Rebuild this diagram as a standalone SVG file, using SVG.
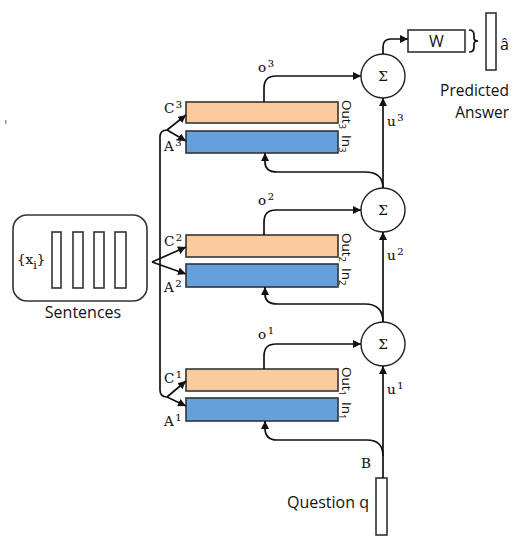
<svg xmlns="http://www.w3.org/2000/svg" width="528" height="556" viewBox="0 0 528 556">
<defs>
<marker id="ah" viewBox="0 0 10 10" refX="10" refY="5" markerWidth="8" markerHeight="8" markerUnits="userSpaceOnUse" orient="auto">
<path d="M0,0 L10,5 L0,10 z" fill="#111"/>
</marker>
<style>
.ln{fill:none;stroke:#111;stroke-width:1.7}
.arr{fill:none;stroke:#111;stroke-width:1.7;marker-end:url(#ah)}
.box{fill:#fff;stroke:#333;stroke-width:1.6}
.out{fill:#fbcb9f;stroke:#333;stroke-width:1.6}
.in{fill:#65a0dc;stroke:#333;stroke-width:1.6}
.sum{fill:#fff;stroke:#222;stroke-width:1.4}
.ser{font-family:"DejaVu Serif","Liberation Serif",serif;font-size:13.5px;fill:#111;stroke:#111;stroke-width:0.1}
.sup{font-size:10px}
.sans{font-family:"Open Sans","Noto Sans","Liberation Sans",sans-serif;fill:#111}
</style>
</defs>
<rect x="5" y="120" width="1.5" height="4" fill="#999"/>
<g id="sentences">
<rect class="box" x="13" y="215" width="134" height="86" rx="14"/>
<rect class="box" x="52" y="232" width="9" height="56"/>
<rect class="box" x="73" y="232" width="10" height="56"/>
<rect class="box" x="94" y="232" width="10" height="56"/>
<rect class="box" x="115" y="232" width="11" height="56"/>
<text class="ser" x="17" y="264" font-size="14.5">{x<tspan font-size="11" dy="5">i</tspan><tspan dy="-5">}</tspan></text>
<text class="sans" x="83" y="318" font-size="16" text-anchor="middle">Sentences</text>
</g>
<g id="layer3">
<rect class="out" x="186" y="102" width="152" height="21"/>
<rect class="in" x="186" y="131" width="152" height="22"/>
<text class="ser" x="164" y="113">C<tspan class="sup" dx="1.5" dy="-5">3</tspan></text>
<text class="ser" x="164" y="151">A<tspan class="sup" dx="1.5" dy="-5">3</tspan></text>
<text class="sans" font-size="13.5" transform="translate(341.5,100) rotate(90)">Out<tspan font-size="9.5" dy="3">3</tspan></text>
<text class="sans" font-size="13.5" transform="translate(341.5,135) rotate(90)">In<tspan font-size="9.5" dy="3">3</tspan></text>
</g>
<g id="layer2">
<rect class="out" x="186" y="235" width="152" height="22"/>
<rect class="in" x="186" y="264" width="152" height="23"/>
<text class="ser" x="164" y="246">C<tspan class="sup" dx="1.5" dy="-5">2</tspan></text>
<text class="ser" x="164" y="292">A<tspan class="sup" dx="1.5" dy="-5">2</tspan></text>
<text class="sans" font-size="13.5" transform="translate(341.5,233) rotate(90)">Out<tspan font-size="9.5" dy="3">2</tspan></text>
<text class="sans" font-size="13.5" transform="translate(341.5,268) rotate(90)">In<tspan font-size="9.5" dy="3">2</tspan></text>
</g>
<g id="layer1">
<rect class="out" x="186" y="369" width="152" height="22"/>
<rect class="in" x="186" y="398" width="152" height="23"/>
<text class="ser" x="164" y="383">C<tspan class="sup" dx="1.5" dy="-5">1</tspan></text>
<text class="ser" x="164" y="426">A<tspan class="sup" dx="1.5" dy="-5">1</tspan></text>
<text class="sans" font-size="13.5" transform="translate(341.5,367) rotate(90)">Out<tspan font-size="9.5" dy="3">1</tspan></text>
<text class="sans" font-size="13.5" transform="translate(341.5,402) rotate(90)">In<tspan font-size="9.5" dy="3">1</tspan></text>
</g>
<g id="sum3">
<circle class="sum" cx="383" cy="76" r="22"/>
<text class="ser" x="383" y="81" font-size="13" stroke-width="0" text-anchor="middle">Σ</text>
</g>
<g id="sum2">
<circle class="sum" cx="383" cy="210" r="22"/>
<text class="ser" x="383" y="215" font-size="13" stroke-width="0" text-anchor="middle">Σ</text>
</g>
<g id="sum1">
<circle class="sum" cx="383" cy="344" r="22"/>
<text class="ser" x="383" y="349" font-size="13" stroke-width="0" text-anchor="middle">Σ</text>
</g>
<g id="W">
<rect class="box" x="408" y="30" width="57" height="22"/>
<text class="sans" x="436.5" y="47" font-size="16" text-anchor="middle">W</text>
</g>
<g id="answer">
<path class="ln" stroke-width="1.3" d="M469,30 Q474,30 474,35 V38 Q474,41 478,41 Q474,41 474,44 V47 Q474,52 469,52"/>
<rect class="box" x="486" y="13" width="10" height="57"/>
<text class="sans" x="500" y="50" font-size="16">â</text>
<text class="sans" x="509" y="96" font-size="15.5" text-anchor="end">Predicted</text>
<text class="sans" x="509" y="118" font-size="15.5" text-anchor="end">Answer</text>
</g>
<g id="question">
<rect class="box" x="376" y="478" width="11" height="57"/>
<text class="sans" x="369" y="508" font-size="16" text-anchor="end">Question q</text>
</g>
<g id="connectors">
<path class="ln" d="M160,390 V137 Q160,130 167,130"/>
<path class="ln" d="M160,390 Q160,397 167,397"/>
<path class="arr" d="M167,130 L186,115"/>
<path class="arr" d="M167,130 L186,141"/>
<path class="arr" d="M152,262 L186,247"/>
<path class="arr" d="M152,262 L186,274"/>
<path class="arr" d="M167,397 L186,381"/>
<path class="arr" d="M167,397 L186,406"/>
<path class="arr" d="M264,102 V88 Q264,76 276,76 H361"/>
<path class="arr" d="M264,235 V222 Q264,210 276,210 H361"/>
<path class="arr" d="M264,369 V356 Q264,344 276,344 H361"/>
<path class="arr" d="M383,478 V366"/>
<path class="arr" d="M383,322 V232"/>
<path class="arr" d="M383,188 V98"/>
<path class="arr" d="M383,456 Q383,440 367,440 H277 Q265,440 265,428 V421"/>
<path class="arr" d="M383,322 Q383,304 365,304 H277 Q265,304 265,294 V287"/>
<path class="arr" d="M383,188 Q383,172 365,172 H277 Q265,172 265,162 V153"/>
<path class="arr" d="M383,54 V47 Q383,39 391,39 H408"/>
<text class="ser" x="258" y="72">o<tspan class="sup" dx="1.5" dy="-5">3</tspan></text>
<text class="ser" x="258" y="205">o<tspan class="sup" dx="1.5" dy="-5">2</tspan></text>
<text class="ser" x="258" y="339">o<tspan class="sup" dx="1.5" dy="-5">1</tspan></text>
<text class="ser" x="387" y="126">u<tspan class="sup" dx="1.5" dy="-5">3</tspan></text>
<text class="ser" x="387" y="260">u<tspan class="sup" dx="1.5" dy="-5">2</tspan></text>
<text class="ser" x="387" y="394">u<tspan class="sup" dx="1.5" dy="-5">1</tspan></text>
<text class="ser" x="361" y="468">B</text>
</g>
</svg>
